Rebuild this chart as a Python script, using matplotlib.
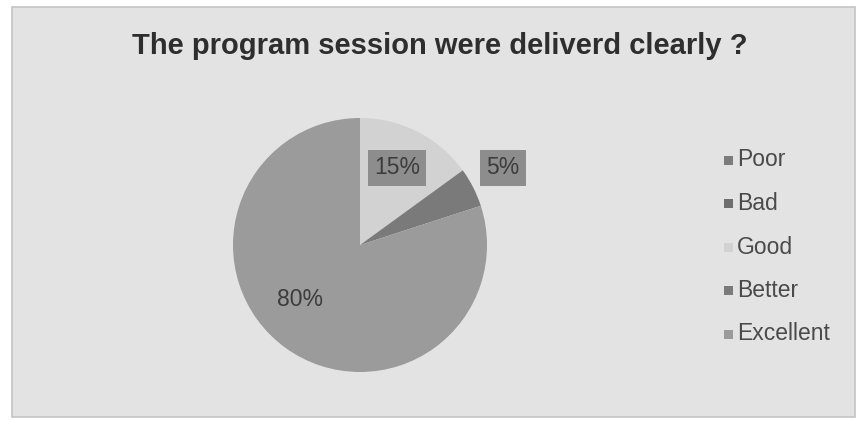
import matplotlib
matplotlib.use("Agg")
import matplotlib.pyplot as plt
from matplotlib.patches import Rectangle

plt.rcParams["font.family"] = ["Liberation Sans", "DejaVu Sans"]

# survey answers
categories = ["Poor", "Bad", "Good", "Better", "Excellent"]
shares = [0, 0, 15, 5, 80]
slice_colors = ["#7c7c7c", "#6e6e6e", "#d2d2d2", "#7a7a7a", "#9b9b9b"]
title = "The program session were deliverd clearly ?"

W, H = 857, 421
fig = plt.figure(figsize=(W / 100, H / 100), dpi=100)
fig.patch.set_facecolor("white")
ax = fig.add_axes([0, 0, 1, 1])

# chart area background with border
ax.add_patch(Rectangle((12, 4), 843, 410, facecolor="#e3e3e3",
                       edgecolor="#c4c4c4", linewidth=1.2, zorder=0))

cx, cy, r = 360, H - 245, 127
vals = [v for v in shares if v > 0]
cols = [c for v, c in zip(shares, slice_colors) if v > 0]
wedges, _ = ax.pie(vals, colors=cols, startangle=90, counterclock=False,
                   center=(cx, cy), radius=r, frame=True,
                   wedgeprops=dict(linewidth=0))
ax.set_xlim(0, W)
ax.set_ylim(0, H)
ax.set_aspect("equal")
ax.axis("off")

# data labels (Excel "best fit" placement)
label_pos = {"Good": (397, H - 168, True), "Better": (503, H - 168, True),
             "Excellent": (300, H - 300, False)}
for cat, v in zip(categories, shares):
    if cat not in label_pos:
        continue
    x, y, boxed = label_pos[cat]
    bbox = dict(boxstyle="square,pad=0.28", facecolor="#8d8d8d",
                edgecolor="none") if boxed else None
    ax.text(x, y, f"{v}%", ha="center", va="center", fontsize=16.5,
            color="#3c3c3c", bbox=bbox, zorder=5)

ax.text(440, H - 46, title, ha="center", va="center", fontsize=21,
        fontweight="bold", color="#2e2e2e")

# legend
for i, (cat, c) in enumerate(zip(categories, slice_colors)):
    y = H - (160 + i * 43.5)
    ax.add_patch(Rectangle((724, y - 4.5), 9, 9, facecolor=c, edgecolor="none"))
    ax.text(737, y, cat, ha="left", va="center", fontsize=16.5, color="#4a4a4a")

fig.savefig("out.png", dpi=100, facecolor=fig.get_facecolor())
